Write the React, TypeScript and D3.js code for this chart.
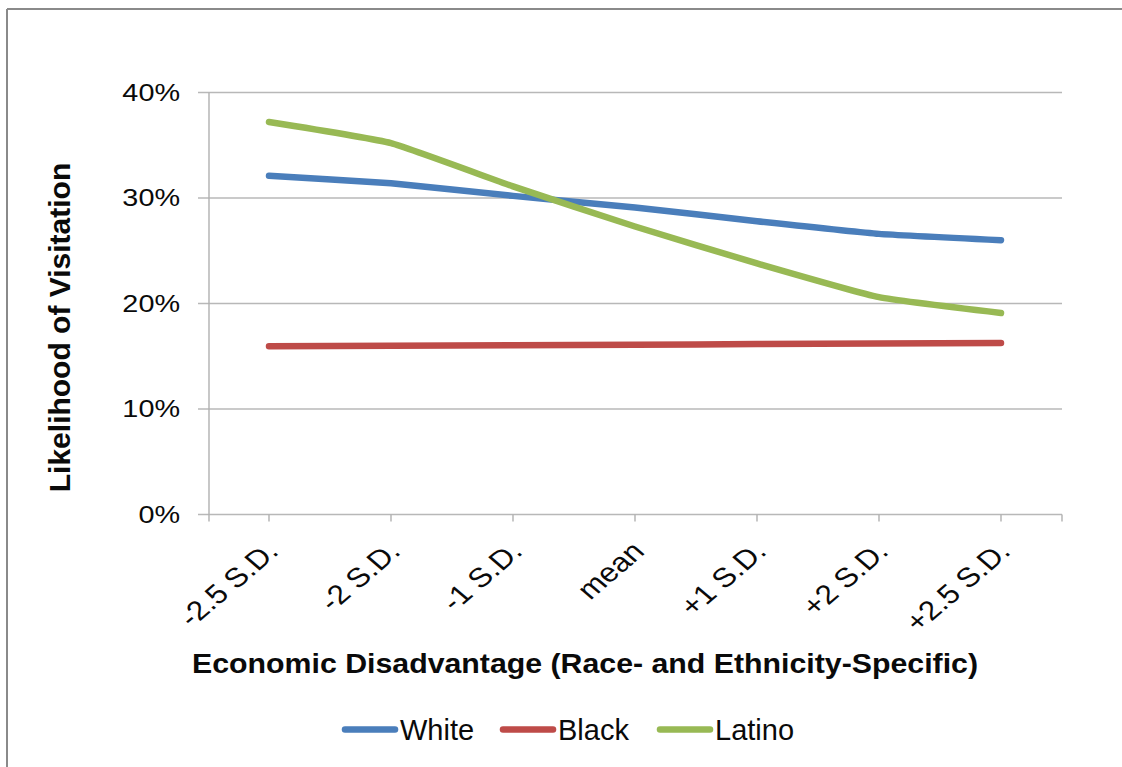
import React from "react";
import * as d3 from "d3";

const categories = ["-2.5 S.D.", "-2 S.D.", "-1 S.D.", "mean", "+1 S.D.", "+2 S.D.", "+2.5 S.D."];
const whiteValues = [0.321, 0.314, 0.302, 0.291, 0.278, 0.266, 0.26];
const blackValues = [0.1595, 0.16, 0.1605, 0.161, 0.1615, 0.162, 0.1625];
const latinoValues = [0.372, 0.352, 0.311, 0.273, 0.238, 0.206, 0.191];
const seriesNames = ["White", "Black", "Latino"];
const seriesColors = ["#4a7ebb", "#be4b48", "#98b954"];
const yTicks = [0, 0.1, 0.2, 0.3, 0.4];
const xTitle = "Economic Disadvantage (Race- and Ethnicity-Specific)";
const yTitle = "Likelihood of Visitation";

const W = 1122;
const H = 767;
const FONT = "'Liberation Sans', Arial, sans-serif";

export default function App() {
  const left = 208;
  const right = 1062;
  const top = 92.5;
  const bottom = 514.5;

  const x = d3.scalePoint<string>().domain(categories).range([left, right]).padding(0.5);
  const y = d3.scaleLinear().domain([0, 0.4]).range([bottom, top]);

  const allSeries = [whiteValues, blackValues, latinoValues];
  const line = d3
    .line<number>()
    .x((_, i) => x(categories[i]) as number)
    .y((d) => y(d))
    .curve(d3.curveCardinal.tension(0.6));

  const legendX = [342, 500, 657];

  return (
    <svg
      width={W}
      height={H}
      style={{ position: "absolute", left: 0, top: 0, background: "#fff" }}
      fontFamily={FONT}
    >
      <rect x={0} y={0} width={W} height={H} fill="#fff" />
      {/* outer frame (left + top visible) */}
      <line x1={7} y1={9} x2={W} y2={9} stroke="#8a8a8a" strokeWidth={2} />
      <line x1={7} y1={9} x2={7} y2={H} stroke="#8a8a8a" strokeWidth={2} />

      {/* gridlines + y ticks */}
      {yTicks.map((t) => (
        <g key={t}>
          <line x1={left - 10} x2={right} y1={y(t)} y2={y(t)} stroke="#b8b8b8" strokeWidth={1.4} />
          <text
            transform={`translate(180,${y(t) + 8}) scale(1.2,1)`}
            textAnchor="end"
            fontSize={24}
            fill="#0a0a0a"
          >
            {d3.format(".0%")(t)}
          </text>
        </g>
      ))}

      {/* y axis */}
      <line x1={left + 1} x2={left + 1} y1={top} y2={bottom + 7} stroke="#b0b0b0" strokeWidth={1.4} />
      {/* x axis ticks */}
      {categories.map((c) => (
        <line key={c} x1={x(c)} x2={x(c)} y1={bottom} y2={bottom + 7} stroke="#b0b0b0" strokeWidth={1.4} />
      ))}
      <line x1={right} x2={right} y1={bottom} y2={bottom + 7} stroke="#b0b0b0" strokeWidth={1.4} />

      {/* x tick labels */}
      {categories.map((c) => (
        <text
          key={c}
          transform={`translate(${(x(c) as number) + 11},${553}) scale(1.17,1) rotate(-45)`}
          textAnchor="end"
          fontSize={27}
          fill="#0a0a0a"
        >
          {c}
        </text>
      ))}

      {/* series lines */}
      {allSeries.map((vals, i) => (
        <path
          key={seriesNames[i]}
          d={line(vals) || ""}
          fill="none"
          stroke={seriesColors[i]}
          strokeWidth={6.5}
          strokeLinecap="round"
          strokeLinejoin="round"
        />
      ))}

      {/* axis titles */}
      <text
        x={585}
        y={673}
        textAnchor="middle"
        fontSize={28}
        fontWeight="bold"
        fill="#0a0a0a"
        textLength={786}
        lengthAdjust="spacingAndGlyphs"
      >
        {xTitle}
      </text>
      <text
        transform={`translate(70,327.5) rotate(-90)`}
        textAnchor="middle"
        fontSize={30}
        fontWeight="bold"
        fill="#0a0a0a"
      >
        {yTitle}
      </text>

      {/* legend */}
      {seriesNames.map((name, i) => (
        <g key={name}>
          <line
            x1={legendX[i] + 3}
            x2={legendX[i] + 53}
            y1={729.5}
            y2={729.5}
            stroke={seriesColors[i]}
            strokeWidth={6.5}
            strokeLinecap="round"
          />
          <text x={legendX[i] + 58} y={740} fontSize={29} fill="#0a0a0a">
            {name}
          </text>
        </g>
      ))}
    </svg>
  );
}
